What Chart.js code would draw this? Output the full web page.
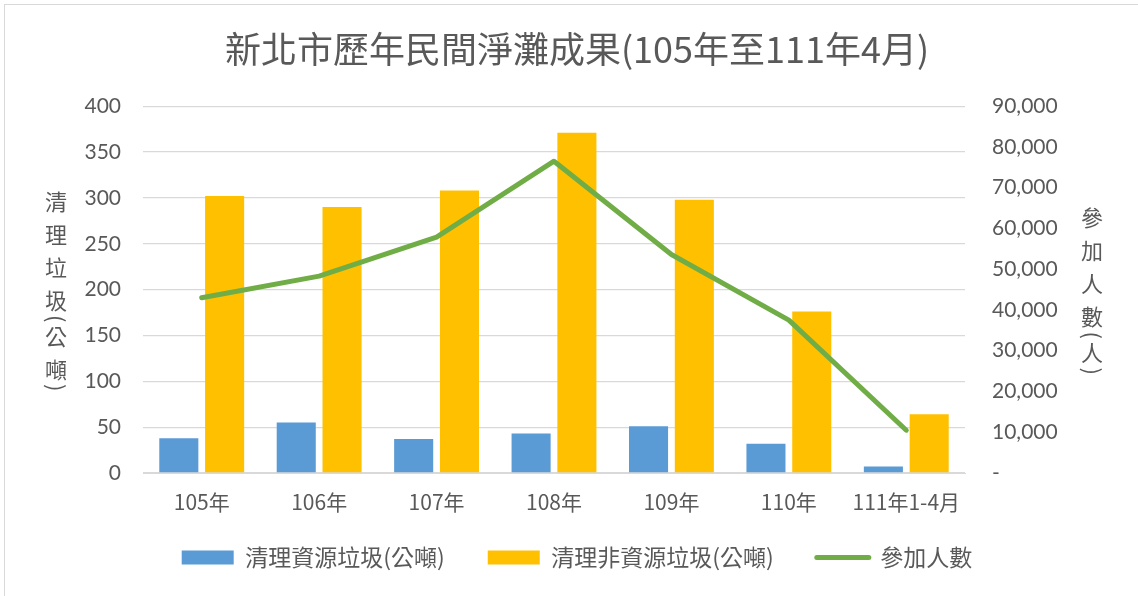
<!DOCTYPE html>
<html>
<head>
<meta charset="utf-8">
<script src="https://cdn.jsdelivr.net/npm/chart.js@4.4.0/dist/chart.umd.min.js"></script>
<style>
  html, body { margin: 0; padding: 0; background: #fff; overflow: hidden; }
  #frame { position: absolute; left: 4px; top: 4px; width: 1300px; height: 800px;
           border-left: 1px solid #d9d9d9; border-top: 1px solid #d9d9d9; }
  #chart { position: absolute; left: 0; top: 0; }
</style>
</head>
<body>
<div id="frame"></div>
<canvas id="chart" width="1138" height="596"></canvas>
<script>
const CATEGORIES = ["105年", "106年", "107年", "108年", "109年", "110年", "111年1-4月"];
const RECYCLABLE = [38, 55, 37, 43, 51, 32, 7];          // 清理資源垃圾(公噸)
const NON_RECYCLABLE = [302, 290, 308, 371, 298, 176, 64]; // 清理非資源垃圾(公噸)
const PARTICIPANTS = [43000, 48300, 57900, 76500, 53600, 37500, 10500]; // 參加人數

const TEXT = "#595959";
const GRID = "#d9d9d9";
const CJK = "'Noto Sans CJK TC', 'Noto Sans CJK SC', sans-serif";
const NUM = "Lato, 'Open Sans', sans-serif";

// upright stacked axis titles; parentheses are turned to look like vertical forms
function drawVertical(ctx, text, x, midY) {
  const chars = Array.from(text);
  const isParen = c => c === "(" || c === ")";
  const ys = [0];
  for (let i = 1; i < chars.length; i++) {
    const step = isParen(chars[i]) || isParen(chars[i - 1]) ? 18 : 33;
    ys.push(ys[i - 1] + step);
  }
  const offset = midY - ys[ys.length - 1] / 2;
  chars.forEach((c, i) => {
    ctx.save();
    ctx.translate(x, offset + ys[i]);
    if (isParen(c)) ctx.rotate(Math.PI / 2);
    ctx.fillText(c, 0, 0);
    ctx.restore();
  });
}

const axisTitles = {
  id: "axisTitles",
  afterDraw(chart) {
    const { ctx, chartArea } = chart;
    const mid = (chartArea.top + chartArea.bottom) / 2 + 5;
    ctx.save();
    ctx.fillStyle = TEXT;
    ctx.font = "22px " + CJK;
    ctx.textAlign = "center";
    ctx.textBaseline = "middle";
    drawVertical(ctx, "清理垃圾(公噸)", 56, mid);
    drawVertical(ctx, "參加人數(人)", 1092, mid);
    ctx.restore();
  },
};

// the wide item padding also pushes the legend row down; pull it back up
const legendShift = {
  id: "legendShift",
  afterLayout(chart) {
    chart.legend.top -= 17;
    chart.legend.bottom -= 17;
  },
};

const LEGEND_STYLE = ["rect", "rect", "line"];

new Chart(document.getElementById("chart"), {
  data: {
    labels: CATEGORIES,
    datasets: [
      {
        type: "bar", label: "清理資源垃圾(公噸)", data: RECYCLABLE,
        backgroundColor: "#5b9bd5", yAxisID: "y", order: 1,
        categoryPercentage: 0.78, barPercentage: 0.853,
      },
      {
        type: "bar", label: "清理非資源垃圾(公噸)", data: NON_RECYCLABLE,
        backgroundColor: "#ffc000", yAxisID: "y", order: 1,
        categoryPercentage: 0.78, barPercentage: 0.853,
      },
      {
        type: "line", label: "參加人數", data: PARTICIPANTS,
        borderColor: "#70ad47", backgroundColor: "#70ad47", borderWidth: 5,
        borderCapStyle: "round", borderJoinStyle: "round",
        pointRadius: 0, tension: 0, yAxisID: "y1", order: 0,
      },
    ],
  },
  options: {
    responsive: false,
    animation: false,
    devicePixelRatio: 1,
    layout: { padding: { top: 0, bottom: 0, left: 16, right: 0 } },
    plugins: {
      title: {
        display: true,
        text: "新北市歷年民間淨灘成果(105年至111年4月)",
        color: TEXT,
        font: { family: CJK, size: 36, weight: "normal", lineHeight: 1.2 },
        padding: { top: 28, bottom: 35 },
      },
      legend: {
        position: "bottom",
        labels: {
          color: TEXT,
          font: { family: CJK, size: 23 },
          usePointStyle: true,
          pointStyleWidth: 52,
          boxHeight: 14,
          padding: 43,
          sort: (a, b) => a.datasetIndex - b.datasetIndex,
          generateLabels(chart) {
            const items = Chart.defaults.plugins.legend.labels.generateLabels(chart);
            return items.map(item => {
              const ds = chart.data.datasets[item.datasetIndex];
              const isLine = ds.type === "line";
              return {
                ...item,
                pointStyle: LEGEND_STYLE[item.datasetIndex],
                fillStyle: ds.backgroundColor,
                strokeStyle: isLine ? ds.borderColor : ds.backgroundColor,
                lineWidth: isLine ? 5 : 0,
                lineCap: "round",
              };
            });
          },
        },
      },
      tooltip: { enabled: false },
    },
    scales: {
      x: {
        grid: { display: false, drawTicks: false },
        border: { display: true, color: GRID },
        ticks: { color: TEXT, font: { family: CJK, size: 21 }, padding: 16, maxRotation: 0 },
        afterFit: s => { s.height = 47; },
      },
      y: {
        position: "left",
        min: 0, max: 400,
        grid: { color: GRID, lineWidth: 1.3, drawTicks: false },
        border: { display: false },
        ticks: { stepSize: 50, color: TEXT, font: { family: NUM, size: 21 }, padding: 22 },
        afterFit: s => { s.width = 127; },
      },
      y1: {
        position: "right",
        min: 0, max: 90000,
        grid: { display: false, drawTicks: false },
        border: { display: false },
        ticks: {
          stepSize: 10000, color: TEXT, font: { family: NUM, size: 21 }, padding: 27,
          callback: v => (v === 0 ? "-" : v.toLocaleString("en-US")),
        },
        afterFit: s => { s.width = 173; },
      },
    },
  },
  plugins: [axisTitles, legendShift],
});
</script>
</body>
</html>
